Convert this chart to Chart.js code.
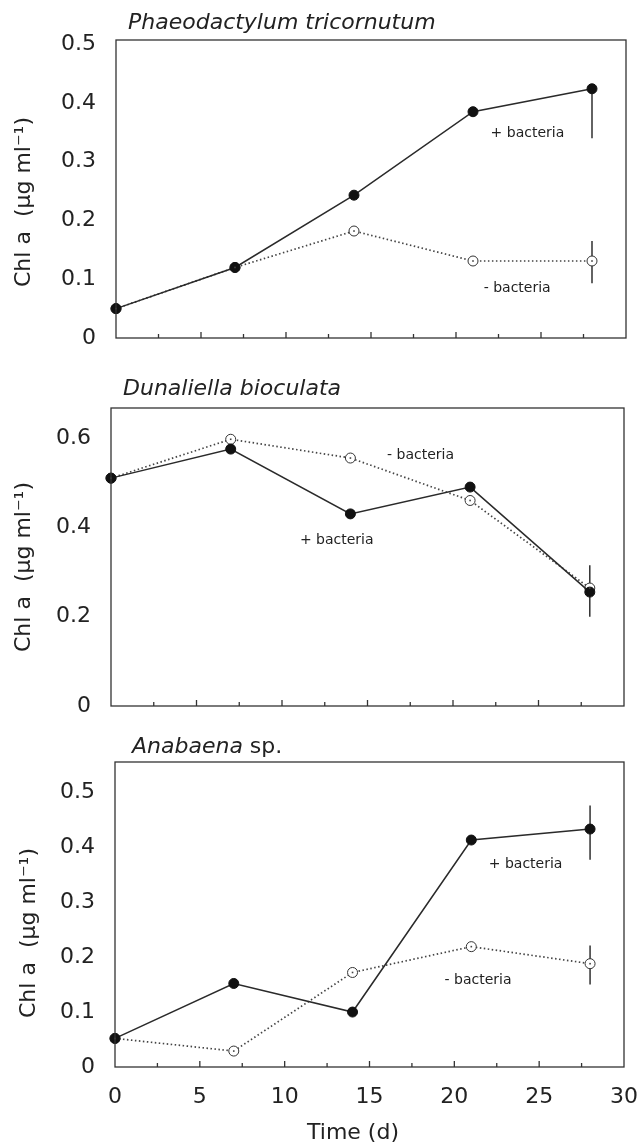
<!DOCTYPE html>
<html>
<head>
<meta charset="utf-8">
<script src="https://cdn.jsdelivr.net/npm/chart.js@4/dist/chart.umd.min.js"></script>
<style>
  html, body { margin: 0; padding: 0; background: #fff; }
  #wrap { position: relative; width: 637px; height: 1143px; }
  canvas { position: absolute; left: 0; }
</style>
</head>
<body>
<div id="wrap">
  <canvas id="phaeo" width="637" height="360" style="top:0"></canvas>
  <canvas id="duna" width="637" height="370" style="top:360px"></canvas>
  <canvas id="anab" width="637" height="413" style="top:730px"></canvas>
</div>
<script>
// sampling days
const days = [0, 7, 14, 21, 28];
const dayTicks = [0, 5, 10, 15, 20, 25, 30];

// Phaeodactylum tricornutum, Chl a (ug/ml)
const phaeoPlus = [0.05, 0.12, 0.243, 0.385, 0.424];
const phaeoMinus = [0.05, 0.12, 0.182, 0.131, 0.131];
const phaeoPlusErr = [null, null, null, null, [0.084, 0]];
const phaeoMinusErr = [null, null, null, null, [0.038, 0.034]];
const phaeoTicks = [0, 0.1, 0.2, 0.3, 0.4, 0.5];

// Dunaliella bioculata
const dunaPlus = [0.51, 0.575, 0.43, 0.49, 0.255];
const dunaMinus = [0.51, 0.597, 0.555, 0.46, 0.264];
const dunaPlusErr = [null, null, null, null, [0.055, 0.06]];
const dunaMinusErr = [null, null, null, null, null];
const dunaTicks = [0, 0.2, 0.4, 0.6];

// Anabaena sp.
const anabPlus = [0.052, 0.152, 0.1, 0.413, 0.433];
const anabMinus = [0.052, 0.029, 0.172, 0.219, 0.188];
const anabPlusErr = [null, null, null, null, [0.056, 0.043]];
const anabMinusErr = [null, null, null, null, [0.038, 0.033]];
const anabTicks = [0, 0.1, 0.2, 0.3, 0.4, 0.5];

Chart.defaults.font.family = "'DejaVu Sans', sans-serif";
Chart.defaults.color = '#222';

const INK = '#222';

// box, inward x ticks, error bars, text
const framePlugin = {
  id: 'frame',
  beforeDatasetsDraw(chart) {
    const ctx = chart.ctx;
    const x = chart.scales.x, y = chart.scales.y;
    ctx.save();
    ctx.strokeStyle = INK;
    ctx.lineWidth = 1.4;
    chart.data.datasets.forEach(ds => {
      (ds.errors || []).forEach((e, i) => {
        if (!e) return;
        const px = x.getPixelForValue(ds.data[i].x);
        const v = ds.data[i].y;
        ctx.beginPath();
        ctx.moveTo(px, y.getPixelForValue(v - e[0]));
        ctx.lineTo(px, y.getPixelForValue(v + e[1]));
        ctx.stroke();
      });
    });
    ctx.restore();
  },
  afterDatasetsDraw(chart) {
    const ctx = chart.ctx;
    chart.data.datasets.forEach((ds, di) => {
      if (!ds.centerDot) return;
      chart.getDatasetMeta(di).data.forEach(pt => {
        ctx.fillStyle = '#444';
        ctx.fillRect(pt.x - 0.8, pt.y - 0.8, 1.6, 1.6);
      });
    });
  },
  afterDraw(chart, args, opts) {
    const ctx = chart.ctx;
    const a = chart.chartArea;
    const x = chart.scales.x, y = chart.scales.y;
    ctx.save();
    ctx.strokeStyle = '#333';
    ctx.lineWidth = 1.3;
    ctx.strokeRect(a.left, a.top, a.right - a.left, a.bottom - a.top);
    for (let d = 2.5; d < 30; d += 2.5) {
      const px = x.getPixelForValue(d);
      const len = d % 5 === 0 ? 6 : 4;
      ctx.beginPath();
      ctx.moveTo(px, a.bottom);
      ctx.lineTo(px, a.bottom - len);
      ctx.stroke();
    }

    // panel title, italic genus name
    ctx.fillStyle = INK;
    ctx.textBaseline = 'alphabetic';
    ctx.textAlign = 'left';
    let tx = opts.title.x;
    opts.title.parts.forEach(p => {
      ctx.font = (p.italic ? 'italic ' : '') + "22px 'DejaVu Sans'";
      ctx.fillText(p.text, tx, opts.title.y);
      tx += ctx.measureText(p.text).width;
    });

    // y axis title
    ctx.save();
    ctx.translate(opts.yTitle.x, opts.yTitle.y);
    ctx.rotate(-Math.PI / 2);
    ctx.textAlign = 'center';
    ctx.textBaseline = 'middle';
    ctx.font = "22px 'DejaVu Sans'";
    ctx.fillText('Chl a  (\u00b5g ml\u207b\u00b9)', 0, 0);
    ctx.restore();

    if (opts.xTitle) {
      ctx.textAlign = 'center';
      ctx.textBaseline = 'alphabetic';
      ctx.font = "22px 'DejaVu Sans'";
      ctx.fillText('Time (d)', opts.xTitle.x, opts.xTitle.y);
    }

    // series labels placed in data units
    ctx.font = "14px 'DejaVu Sans'";
    ctx.textAlign = 'center';
    ctx.textBaseline = 'middle';
    opts.notes.forEach(n => {
      ctx.fillText(n.text, x.getPixelForValue(n.x), y.getPixelForValue(n.y));
    });
    ctx.restore();
  }
};

function points(ys) {
  return days.map((d, i) => ({ x: d, y: ys[i] }));
}

function makePanel(id, p) {
  const canvas = document.getElementById(id);
  const H = canvas.height;
  return new Chart(canvas, {
    type: 'line',
    data: {
      datasets: [
        {
          label: '+ bacteria',
          data: points(p.plus),
          errors: p.plusErr,
          borderColor: '#2a2a2a',
          borderWidth: 1.5,
          pointRadius: 5,
          pointBackgroundColor: '#111',
          pointBorderColor: '#111',
          pointBorderWidth: 1,
          tension: 0,
          clip: false,
          order: 0
        },
        {
          label: '- bacteria',
          data: points(p.minus),
          errors: p.minusErr,
          centerDot: true,
          borderColor: '#444',
          borderWidth: 1.7,
          borderDash: [1.5, 2.5],
          pointRadius: 5,
          pointBackgroundColor: '#fff',
          pointBorderColor: '#333',
          pointBorderWidth: 1,
          tension: 0,
          clip: false,
          order: 1
        }
      ]
    },
    options: {
      responsive: false,
      maintainAspectRatio: false,
      animation: false,
      layout: { padding: { left: 0, top: p.top, right: 637 - p.right, bottom: 0 } },
      plugins: {
        legend: { display: false },
        tooltip: { enabled: false },
        frame: {
          title: p.title,
          yTitle: p.yTitle,
          xTitle: p.xTitle,
          notes: p.notes
        }
      },
      scales: {
        x: {
          type: 'linear',
          min: 0,
          max: 30,
          afterBuildTicks: s => { s.ticks = dayTicks.map(v => ({ value: v })); },
          afterFit: s => {
            s.height = H - p.bottom;
            s.paddingLeft = 0;
            s.paddingRight = 0;
          },
          grid: { display: false },
          border: { display: false },
          ticks: {
            display: p.showDays,
            padding: 9,
            font: { size: 22 },
            color: INK,
            maxRotation: 0
          }
        },
        y: {
          min: 0,
          max: p.yMax,
          afterBuildTicks: s => { s.ticks = p.yTicks.map(v => ({ value: v })); },
          afterFit: s => {
            s.width = p.left;
            s.paddingTop = 0;
            s.paddingBottom = 0;
          },
          grid: { display: false },
          border: { display: false },
          ticks: {
            padding: 12,
            font: { size: 22 },
            color: INK,
            callback: v => v === 0 ? '0' : v.toFixed(1)
          }
        }
      }
    },
    plugins: [framePlugin]
  });
}

makePanel('phaeo', {
  plus: phaeoPlus, minus: phaeoMinus,
  plusErr: phaeoPlusErr, minusErr: phaeoMinusErr,
  yTicks: phaeoTicks, yMax: 0.507,
  left: 116, right: 626, top: 40, bottom: 338,
  showDays: false,
  title: { x: 128, y: 29, parts: [{ text: 'Phaeodactylum tricornutum', italic: true }] },
  yTitle: { x: 24, y: 202 },
  notes: [
    { text: '+ bacteria', x: 24.2, y: 0.348 },
    { text: '- bacteria', x: 23.6, y: 0.085 }
  ]
});

makePanel('duna', {
  plus: dunaPlus, minus: dunaMinus,
  plusErr: dunaPlusErr, minusErr: dunaMinusErr,
  yTicks: dunaTicks, yMax: 0.667,
  left: 111, right: 624, top: 48, bottom: 346,
  showDays: false,
  title: { x: 123, y: 35, parts: [{ text: 'Dunaliella bioculata', italic: true }] },
  yTitle: { x: 24, y: 207 },
  notes: [
    { text: '- bacteria', x: 18.1, y: 0.56 },
    { text: '+ bacteria', x: 13.2, y: 0.371 }
  ]
});

makePanel('anab', {
  plus: anabPlus, minus: anabMinus,
  plusErr: anabPlusErr, minusErr: anabMinusErr,
  yTicks: anabTicks, yMax: 0.555,
  left: 115, right: 624, top: 32, bottom: 337,
  showDays: true,
  title: { x: 132, y: 23, parts: [{ text: 'Anabaena', italic: true }, { text: ' sp.', italic: false }] },
  yTitle: { x: 29, y: 203 },
  xTitle: { x: 353, y: 409 },
  notes: [
    { text: '+ bacteria', x: 24.2, y: 0.368 },
    { text: '- bacteria', x: 21.4, y: 0.158 }
  ]
});
</script>
</body>
</html>
